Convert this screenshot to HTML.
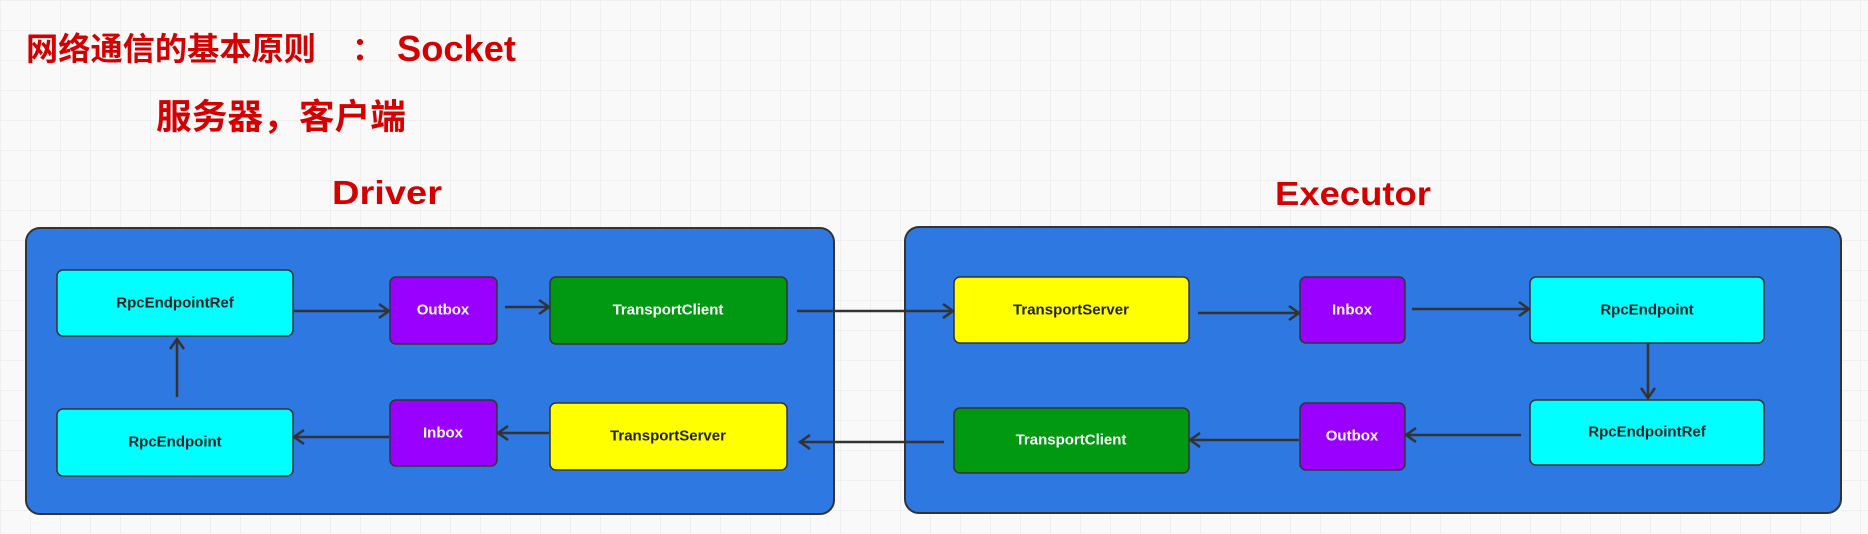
<!DOCTYPE html>
<html><head><meta charset="utf-8"><style>
html,body{margin:0;padding:0}
body{width:1868px;height:534px;overflow:hidden;background:#f9f9f9;
background-image:linear-gradient(#efefef 1px,transparent 1px),linear-gradient(90deg,#efefef 1px,transparent 1px);
background-size:30px 30px;font-family:"Liberation Sans","Noto Sans CJK SC",sans-serif}
svg{position:absolute;left:0;top:0}
</style></head><body>
<svg width="1868" height="534" viewBox="0 0 1868 534" xmlns="http://www.w3.org/2000/svg">
<defs>
<marker id="a" markerWidth="14" markerHeight="16" refX="12" refY="8" orient="auto" markerUnits="userSpaceOnUse">
<path d="M2,1 L12,8 L2,15" fill="none" stroke="#333" stroke-width="2.5"/></marker>
</defs>
<g font-weight="bold" fill="#d40000" font-family="Liberation Sans,Noto Sans CJK SC,sans-serif">
<text x="26" y="60" font-size="32" textLength="290" lengthAdjust="spacingAndGlyphs">网络通信的基本原则</text>
<text x="352" y="60" font-size="32">：</text>
<text x="397" y="61" font-size="36" textLength="119" lengthAdjust="spacingAndGlyphs">Socket</text>
<text x="156" y="129" font-size="35" textLength="250" lengthAdjust="spacingAndGlyphs">服务器，客户端</text>
<text x="332" y="204" font-size="33" textLength="110" lengthAdjust="spacingAndGlyphs">Driver</text>
<text x="1275" y="205" font-size="33" textLength="156" lengthAdjust="spacingAndGlyphs">Executor</text>
</g>
<g stroke="#333" stroke-width="2">
<rect x="26" y="228" width="808" height="286" rx="14" fill="#2e78e1"/>
<rect x="905" y="227" width="936" height="286" rx="14" fill="#2e78e1"/>
</g>
<g stroke="#333" stroke-width="1.5">
<rect x="57" y="270" width="236" height="66" rx="6" fill="#00ffff"/>
<rect x="390" y="277" width="107" height="67" rx="6" fill="#9900ff"/>
<rect x="550" y="277" width="237" height="67" rx="6" fill="#009911"/>
<rect x="57" y="409" width="236" height="67" rx="6" fill="#00ffff"/>
<rect x="390" y="400" width="107" height="66" rx="6" fill="#9900ff"/>
<rect x="550" y="403" width="237" height="67" rx="6" fill="#ffff00"/>
<rect x="954" y="277" width="235" height="66" rx="6" fill="#ffff00"/>
<rect x="1300" y="277" width="105" height="66" rx="6" fill="#9900ff"/>
<rect x="1530" y="277" width="234" height="66" rx="6" fill="#00ffff"/>
<rect x="1530" y="400" width="234" height="65" rx="6" fill="#00ffff"/>
<rect x="1300" y="403" width="105" height="67" rx="6" fill="#9900ff"/>
<rect x="954" y="408" width="235" height="65" rx="6" fill="#009911"/>
</g>
<g font-size="15" font-weight="bold" text-anchor="middle" dominant-baseline="central">
<text x="175" y="303" fill="#222">RpcEndpointRef</text>
<text x="443" y="310" fill="#fff">Outbox</text>
<text x="668" y="310" fill="#fff">TransportClient</text>
<text x="175" y="442" fill="#222">RpcEndpoint</text>
<text x="443" y="433" fill="#fff">Inbox</text>
<text x="668" y="436" fill="#222">TransportServer</text>
<text x="1071" y="310" fill="#222">TransportServer</text>
<text x="1352" y="310" fill="#fff">Inbox</text>
<text x="1647" y="310" fill="#222">RpcEndpoint</text>
<text x="1647" y="432" fill="#222">RpcEndpointRef</text>
<text x="1352" y="436" fill="#fff">Outbox</text>
<text x="1071" y="440" fill="#fff">TransportClient</text>
</g>
<g stroke="#333" stroke-width="2.5" fill="none" marker-end="url(#a)">
<line x1="294" y1="311" x2="389" y2="311"/>
<line x1="505" y1="307" x2="549" y2="307"/>
<line x1="797" y1="311" x2="953" y2="311"/>
<line x1="177" y1="397" x2="177" y2="339"/>
<line x1="389" y1="437" x2="294" y2="437"/>
<line x1="549" y1="433" x2="498" y2="433"/>
<line x1="944" y1="442" x2="800" y2="442"/>
<line x1="1198" y1="313" x2="1299" y2="313"/>
<line x1="1412" y1="309" x2="1529" y2="309"/>
<line x1="1648" y1="343" x2="1648" y2="398"/>
<line x1="1521" y1="435" x2="1406" y2="435"/>
<line x1="1299" y1="440" x2="1190" y2="440"/>
</g>
</svg>
</body></html>
